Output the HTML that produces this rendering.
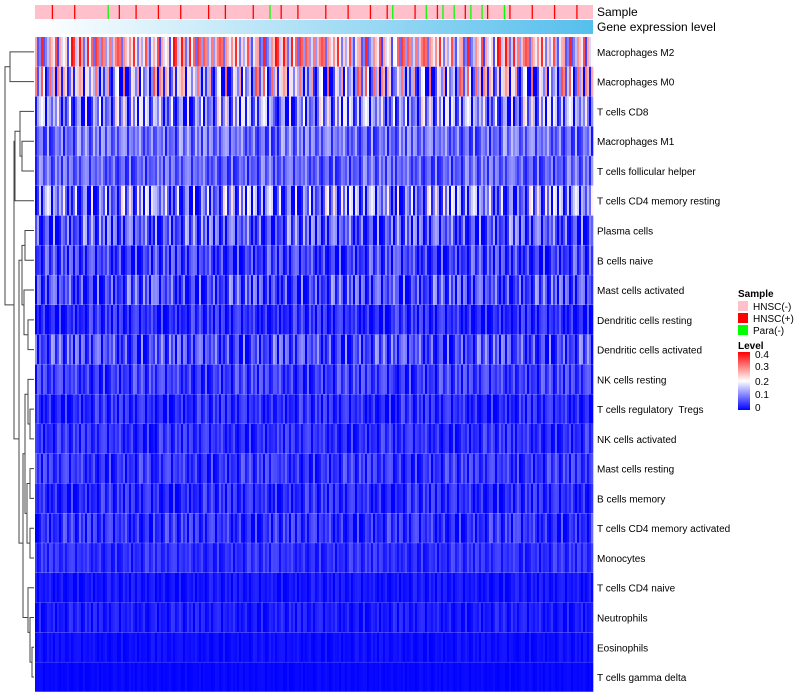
<!DOCTYPE html>
<html><head><meta charset="utf-8"><style>
body{margin:0;background:#fff;font-family:"Liberation Sans",sans-serif}
svg{display:block}
text{font-family:"Liberation Sans",sans-serif;white-space:pre}
</style></head><body>
<svg id="c" width="800" height="700">
<defs>
<linearGradient id="ge" x1="0" x2="1"><stop offset="0" stop-color="#ffffff"/><stop offset="1" stop-color="#56bfec"/></linearGradient>
<linearGradient id="lv" x1="0" x2="0" y1="1" y2="0"><stop offset="0" stop-color="#0000ff"/><stop offset="0.5" stop-color="#ffffff"/><stop offset="1" stop-color="#ff0000"/></linearGradient>
</defs>
<g id="cells"></g>
<rect x="35" y="5" width="558" height="14" fill="#ffc0cb"/>
<g id="marks"></g>
<rect x="35" y="20" width="558" height="14" fill="url(#ge)"/>
<text x="597" y="16" font-size="12">Sample</text>
<text x="597" y="31" font-size="12">Gene expression level</text>
<g id="labels"></g>
<g id="dendro" stroke="#444" stroke-width="1" fill="none"></g>
<g font-size="10">
<text x="738" y="297" font-weight="bold">Sample</text>
<rect x="738" y="301" width="10" height="10" fill="#ffc0cb"/><text x="753" y="310">HNSC(-)</text>
<rect x="738" y="313" width="10" height="10" fill="#ff0000"/><text x="753" y="322">HNSC(+)</text>
<rect x="738" y="325" width="10" height="10" fill="#00ff00"/><text x="753" y="334">Para(-)</text>
<text x="738" y="349" font-weight="bold">Level</text>
<rect x="738" y="352" width="12" height="58" fill="url(#lv)"/>
<text x="755" y="358">0.4</text><text x="755" y="370">0.3</text><text x="755" y="385">0.2</text><text x="755" y="398">0.1</text><text x="755" y="411">0</text>
</g>
</svg>
<script>
const rowNames=["Macrophages M2","Macrophages M0","T cells CD8","Macrophages M1","T cells follicular helper","T cells CD4 memory resting","Plasma cells","B cells naive","Mast cells activated","Dendritic cells resting","Dendritic cells activated","NK cells resting","T cells regulatory  Tregs","NK cells activated","Mast cells resting","B cells memory","T cells CD4 memory activated","Monocytes","T cells CD4 naive","Neutrophils","Eosinophils","T cells gamma delta"];
const rowMeans=[0.22,0.14,0.10,0.085,0.075,0.085,0.06,0.045,0.05,0.03,0.055,0.045,0.03,0.035,0.04,0.03,0.035,0.035,0.015,0.02,0.01,0.005];
const rowSpread=[0.17,0.2,0.14,0.07,0.06,0.15,0.1,0.07,0.09,0.05,0.08,0.05,0.045,0.04,0.045,0.045,0.05,0.03,0.02,0.025,0.012,0.006];
const noise=[0.3,-0.8,0.9,-0.2,0.1,-0.6,1.0,-0.9,0.4,-0.1,0.7,-0.5,-0.3,0.8,-0.7,0.2,0.6,-1.0,0.0,0.5,-0.4,0.9,-0.2,-0.8,0.3,0.7,-0.6,0.1,-0.9,0.4,0.8,-0.3,-0.5,0.2,0.95,-0.7,0.0,0.6,-0.1,-0.9,0.5,0.3,-0.4,0.85,-0.6,0.1,-0.2,0.7,-0.8,0.4,-0.05,0.65,-0.95,0.25,0.55,-0.35,0.15,-0.75,0.45,-0.15];
const sampleRed=[3,7,15,18,22,26,31,34,39,44,47,52,56,60,63,68,72,77,81,85,89,93,97];
const sampleGreen=[13,42,64,70,73,75,78,80,84];
const X0=35,X1=593,Y0=37,RH=29.77,NC=279;
const ns="http://www.w3.org/2000/svg";
function col(v){let t=Math.max(0,Math.min(0.4,v))/0.4;let r,g,b;
 if(t<0.5){const k=t/0.5;r=g=Math.round(255*k);b=255;}else{const k=(t-0.5)/0.5;r=255;g=b=Math.round(255*(1-k));}
 return `rgb(${r},${g},${b})`;}
const xs=c=>X0+(X1-X0)*c/NC, ys=r=>Y0+RH*r;
const cells=document.getElementById('cells');
rowNames.forEach((n,r)=>{
 const g=document.createElementNS(ns,'g');
 
 
 for(let c=0;c<NC;c++){
  const v=rowMeans[r]+rowSpread[r]*noise[(c*7+r*13+Math.floor(c/60)*3)%noise.length];
  const e=document.createElementNS(ns,'rect');
  e.setAttribute('x',xs(c));e.setAttribute('y',ys(r));
  e.setAttribute('width',(X1-X0)/NC+0.3);e.setAttribute('height',RH-0.2);
  e.setAttribute('fill',col(v));
  
  
  g.appendChild(e);}
 cells.appendChild(g);
 const t=document.createElementNS(ns,'text');
 t.setAttribute('x',597);t.setAttribute('y',ys(r)+RH/2+4);t.setAttribute('font-size','10');
 t.textContent=n;
 
 
 document.getElementById('labels').appendChild(t);
});
const marks=document.getElementById('marks');
function mark(p,color){const e=document.createElementNS(ns,'rect');
 e.setAttribute('x',X0+(X1-X0)*p/100);e.setAttribute('y',5);e.setAttribute('width',1.3);e.setAttribute('height',14);e.setAttribute('fill',color);
 
 
 marks.appendChild(e);}
sampleRed.forEach(p=>mark(p,'#ff0000'));sampleGreen.forEach(p=>mark(p,'#00ff00'));
const d=document.getElementById('dendro');
const cy=r=>ys(r)+RH/2;
function U(x,ya,yb,xa,xb){const e=document.createElementNS(ns,'path');e.setAttribute('d',`M${xa} ${ya}H${x}V${yb}H${xb}`);d.appendChild(e);}
U(10,cy(0),cy(1),34,34);
U(22,cy(3),cy(4),34,34);
U(20,cy(2),(cy(3)+cy(4))/2,34,22);
U(15,cy(5),(cy(2)+cy(4))/2-10,34,20);
U(25,cy(6),cy(7),34,34);
U(28,cy(9),cy(10),34,34);
U(24,cy(8),(cy(9)+cy(10))/2,34,28);
U(22,(cy(6)+cy(7))/2,(cy(8)+cy(9))/2,25,24);
U(30,cy(12),cy(13),34,34);
U(28,cy(11),(cy(12)+cy(13))/2,34,30);
U(30,cy(14),cy(15),34,34);
U(30,cy(16),cy(17),34,34);
U(27,(cy(14)+cy(15))/2,(cy(16)+cy(17))/2,30,30);
U(25,(cy(11)+cy(12))/2,(cy(14)+cy(17))/2,28,27);
U(32,cy(20),cy(21),34,34);
U(30,cy(19),(cy(20)+cy(21))/2,34,32);
U(28,cy(18),(cy(19)+cy(20))/2,34,30);
U(23,(cy(11)+cy(16))/2,(cy(18)+cy(20))/2,25,28);
U(19,(cy(6)+cy(8))/2,(cy(14)+cy(19))/2,22,23);
U(14,(cy(3)),(cy(10)+cy(16))/2,15,19);
U(5,(cy(0)+cy(1))/2,(cy(5)+cy(12))/2,10,14);
</script>
</body></html>
